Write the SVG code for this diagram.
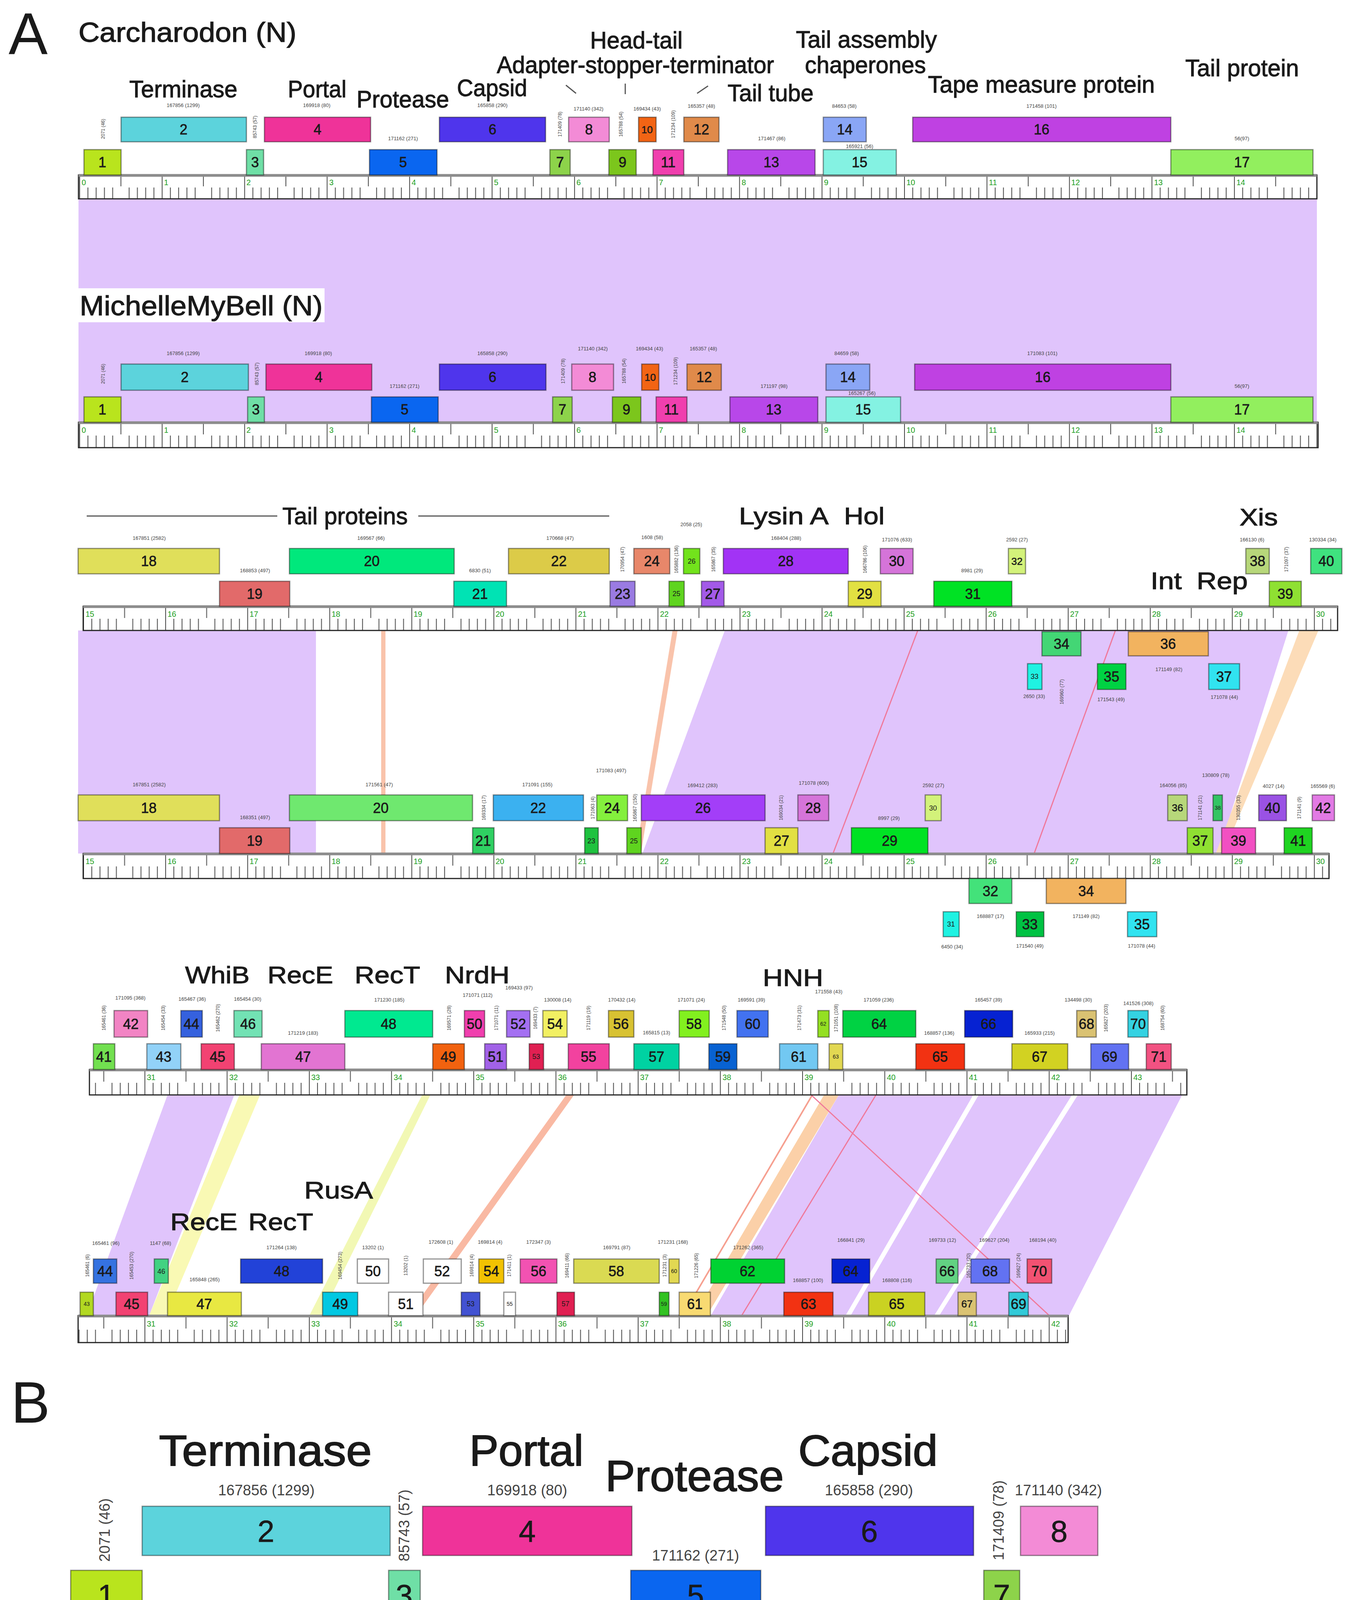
<svg xmlns="http://www.w3.org/2000/svg" width="3467" height="4284" viewBox="0 0 3467 4284">
<style>
text{font-family:"Liberation Sans",Arial,sans-serif;fill:#1a1a1a}
.g rect{stroke:#000;stroke-opacity:.42;stroke-width:3}
.n{font-size:36px;text-anchor:middle;stroke:#1a1a1a;stroke-width:.8}
.n2{font-size:26px;text-anchor:middle;stroke:#1a1a1a;stroke-width:.6}
.n3{font-size:18px;text-anchor:middle}
.n4{font-size:14px;text-anchor:middle}
.L{font-size:62px;stroke:#1a1a1a;stroke-width:1.3}
.LB{font-size:112px;stroke:#1a1a1a;stroke-width:2.2}
.H{stroke:#1a1a1a;stroke-width:1.4}
.s{font-size:13px;text-anchor:middle}
.v{font-size:12px;text-anchor:middle}
.sb{font-size:38px;text-anchor:middle}
.s text,.v text,.sb text{fill:#444}
.k{font-size:20px}
.kb{font-size:42px}
.k text,.kb text{fill:#22a022}
.rul{stroke:#222;stroke-width:3}
.top{stroke:#8c8c8c;stroke-width:7}
.tk{stroke:#444;stroke-width:2;fill:none}
.pp{fill:#e0c4fc}
.rl{stroke:#f0789a;stroke-width:3;fill:none}
.hl{stroke:#555;stroke-width:3}
</style>
<defs>
<pattern id="p1" patternUnits="userSpaceOnUse" x="203" y="448" width="211.2" height="61"><rect width="211.2" height="61" fill="#fff"/><path class="tk" d="M1 0V61M106.6 0V29M22.1 32V61M43.2 32V61M64.4 32V61M85.5 32V61M127.7 32V61M148.8 32V61M170 32V61M191.1 32V61"/></pattern>
<pattern id="p2" patternUnits="userSpaceOnUse" x="203" y="1081" width="211.2" height="65"><rect width="211.2" height="65" fill="#fff"/><path class="tk" d="M1 0V65M106.6 0V31M22.1 34V65M43.2 34V65M64.4 34V65M85.5 34V65M127.7 34V65M148.8 34V65M170 34V65M191.1 34V65"/></pattern>
<pattern id="p3" patternUnits="userSpaceOnUse" x="213" y="1552" width="210.1" height="62"><rect width="210.1" height="62" fill="#fff"/><path class="tk" d="M1 0V62M106 0V30M22 32V62M43 32V62M64 32V62M85 32V62M127 32V62M148 32V62M169 32V62M190 32V62"/></pattern>
<pattern id="p4" patternUnits="userSpaceOnUse" x="213" y="2185" width="210.1" height="64"><rect width="210.1" height="64" fill="#fff"/><path class="tk" d="M1 0V64M106 0V31M22 33V64M43 33V64M64 33V64M85 33V64M127 33V64M148 33V64M169 33V64M190 33V64"/></pattern>
<pattern id="p5" patternUnits="userSpaceOnUse" x="370" y="2738" width="210.5" height="65"><rect width="210.5" height="65" fill="#fff"/><path class="tk" d="M1 0V65M106.2 0V31M22 34V65M43 34V65M64 34V65M85 34V65M127.3 34V65M148.4 34V65M169.4 34V65M190.5 34V65"/></pattern>
<pattern id="p6" patternUnits="userSpaceOnUse" x="370" y="3368" width="210.5" height="69"><rect width="210.5" height="69" fill="#fff"/><path class="tk" d="M1 0V69M106.2 0V33M22 36V69M43 36V69M64 36V69M85 36V69M127.3 36V69M148.4 36V69M169.4 36V69M190.5 36V69"/></pattern>
<pattern id="pB" patternUnits="userSpaceOnUse" x="163" y="4145" width="411.5" height="133"><rect width="411.5" height="133" fill="#fff"/><path d="M1.5 0V133M207 0V62M42.6 66V133M83.7 66V133M124.8 66V133M165.9 66V133M248.4 66V133M289.5 66V133M330.7 66V133M371.8 66V133" stroke="#333" stroke-width="3" fill="none"/></pattern>
</defs>
<rect width="3467" height="4284" fill="#fff"/>

<!-- connectors -->
<g id="connectors">
<rect class="pp" x="201" y="509" width="3171" height="572"/>
<polygon class="pp" points="200,1614 809,1614 809,2185 200,2185"/>
<polygon fill="#f9c3ab" points="976,1614 987,1614 987,2185 976,2185"/>
<polygon fill="#f9c3ab" points="1722,1614 1735,1614 1641,2185 1628,2185"/>
<polygon class="pp" points="1856,1614 3299,1614 3119,2185 1645,2185"/>
<polygon fill="#fcdcb8" points="3327,1614 3376,1614 3132,2185 3113,2185"/>
<line class="rl" x1="2350" y1="1614" x2="2133" y2="2185"/>
<line class="rl" x1="2856" y1="1614" x2="2648" y2="2185"/>
<polygon class="pp" points="429,2803 600,2803 382,3368 222,3368"/>
<polygon fill="#f9f9b4" points="613,2803 666,2803 426,3368 382,3368"/>
<polygon fill="#f2f8b4" points="1081,2803 1102,2803 823,3368 792,3368"/>
<polygon fill="#f9b9a3" points="1450,2803 1470,2803 1065,3368 1044,3368"/>
<polygon class="pp" points="2148,2803 2492,2803 2165,3368 1820,3368"/>
<polygon class="pp" points="2506,2803 2745,2803 2392,3368 2178,3368"/>
<polygon class="pp" points="2760,2803 3027,2803 2737,3368 2405,3368"/>
<polygon fill="#fbd0a8" points="2110,2803 2148,2803 1810,3368 1778,3368"/>
<line x1="2080" y1="2803" x2="1748" y2="3368" stroke="#f6a090" stroke-width="4"/>
<line class="rl" x1="2243" y1="2803" x2="1899" y2="3368"/>
<line class="rl" x1="2077" y1="2803" x2="2687" y2="3368"/>
</g>

<!-- rulers -->
<g id="rulers">
<rect class="rul" x="201" y="448" width="3171" height="61" fill="url(#p1)"/>
<rect class="rul" x="201" y="1081" width="3174" height="65" fill="url(#p2)"/>
<rect class="rul" x="213" y="1552" width="3212" height="62" fill="url(#p3)"/>
<rect class="rul" x="213" y="2185" width="3190" height="64" fill="url(#p4)"/>
<rect class="rul" x="229" y="2738" width="2810" height="65" fill="url(#p5)"/>
<rect class="rul" x="200" y="3368" width="2535" height="69" fill="url(#p6)"/>
<path class="top" d="M201 449H3372M201 1082H3375M213 1553H3425M213 2186H3403M229 2739H3039M200 3369H2735"/>
<rect x="163" y="4145" width="2661" height="130" fill="url(#pB)" stroke="#222" stroke-width="6"/>
<g class="k">
<text x="209" y="474">0</text><text x="420" y="474">1</text><text x="631" y="474">2</text><text x="843" y="474">3</text><text x="1054" y="474">4</text><text x="1265" y="474">5</text><text x="1476" y="474">6</text><text x="1687" y="474">7</text><text x="1899" y="474">8</text><text x="2110" y="474">9</text><text x="2321" y="474">10</text><text x="2532" y="474">11</text><text x="2743" y="474">12</text><text x="2955" y="474">13</text><text x="3166" y="474">14</text>
<text x="209" y="1108">0</text><text x="420" y="1108">1</text><text x="631" y="1108">2</text><text x="843" y="1108">3</text><text x="1054" y="1108">4</text><text x="1265" y="1108">5</text><text x="1476" y="1108">6</text><text x="1687" y="1108">7</text><text x="1899" y="1108">8</text><text x="2110" y="1108">9</text><text x="2321" y="1108">10</text><text x="2532" y="1108">11</text><text x="2743" y="1108">12</text><text x="2955" y="1108">13</text><text x="3166" y="1108">14</text>
<text x="219" y="1579">15</text><text x="429" y="1579">16</text><text x="639" y="1579">17</text><text x="849" y="1579">18</text><text x="1059" y="1579">19</text><text x="1269" y="1579">20</text><text x="1480" y="1579">21</text><text x="1690" y="1579">22</text><text x="1900" y="1579">23</text><text x="2110" y="1579">24</text><text x="2320" y="1579">25</text><text x="2530" y="1579">26</text><text x="2740" y="1579">27</text><text x="2950" y="1579">28</text><text x="3160" y="1579">29</text><text x="3370" y="1579">30</text>
<text x="219" y="2212">15</text><text x="429" y="2212">16</text><text x="639" y="2212">17</text><text x="849" y="2212">18</text><text x="1059" y="2212">19</text><text x="1269" y="2212">20</text><text x="1480" y="2212">21</text><text x="1690" y="2212">22</text><text x="1900" y="2212">23</text><text x="2110" y="2212">24</text><text x="2320" y="2212">25</text><text x="2530" y="2212">26</text><text x="2740" y="2212">27</text><text x="2950" y="2212">28</text><text x="3160" y="2212">29</text><text x="3370" y="2212">30</text>
<text x="376" y="2765">31</text><text x="587" y="2765">32</text><text x="797" y="2765">33</text><text x="1008" y="2765">34</text><text x="1218" y="2765">35</text><text x="1429" y="2765">36</text><text x="1639" y="2765">37</text><text x="1850" y="2765">38</text><text x="2060" y="2765">39</text><text x="2271" y="2765">40</text><text x="2481" y="2765">41</text><text x="2692" y="2765">42</text><text x="2902" y="2765">43</text>
<text x="376" y="3396">31</text><text x="587" y="3396">32</text><text x="797" y="3396">33</text><text x="1008" y="3396">34</text><text x="1218" y="3396">35</text><text x="1429" y="3396">36</text><text x="1639" y="3396">37</text><text x="1850" y="3396">38</text><text x="2060" y="3396">39</text><text x="2271" y="3396">40</text><text x="2481" y="3396">41</text><text x="2692" y="3396">42</text>
</g>
<g class="kb"><text x="172" y="4199">0</text><text x="583" y="4199">1</text><text x="995" y="4199">2</text><text x="1406" y="4199">3</text><text x="1818" y="4199">4</text><text x="2229" y="4199">5</text><text x="2641" y="4199">6</text></g>
</g>

<!-- panel A row 1: Carcharodon 0-15 kb -->
<g class="g">
<g id="c1-2"><rect x="310" y="300" width="321" height="63" fill="#5cd3dc"/><text class="n" x="470" y="344">2</text></g>
<g id="c1-4"><rect x="677" y="300" width="272" height="63" fill="#ef3399"/><text class="n" x="813" y="344">4</text></g>
<g id="c1-6"><rect x="1125" y="300" width="272" height="63" fill="#4f35ec"/><text class="n" x="1261" y="344">6</text></g>
<g id="c1-8"><rect x="1456" y="300" width="104" height="63" fill="#f38bd6"/><text class="n" x="1508" y="344">8</text></g>
<g id="c1-10"><rect x="1635" y="300" width="45" height="63" fill="#f26414"/><text class="n2" x="1657" y="341">10</text></g>
<g id="c1-12"><rect x="1751" y="300" width="90" height="63" fill="#e08a4a"/><text class="n" x="1796" y="344">12</text></g>
<g id="c1-14"><rect x="2108" y="300" width="110" height="63" fill="#8aa6f5"/><text class="n" x="2163" y="344">14</text></g>
<g id="c1-16"><rect x="2337" y="300" width="661" height="63" fill="#bf41e2"/><text class="n" x="2667" y="344">16</text></g>
<g id="c1-1"><rect x="215" y="383" width="95" height="65" fill="#b9e41d"/><text class="n" x="262" y="428">1</text></g>
<g id="c1-3"><rect x="631" y="383" width="44" height="65" fill="#6fdfa6"/><text class="n" x="653" y="428">3</text></g>
<g id="c1-5"><rect x="946" y="383" width="173" height="65" fill="#0a66f0"/><text class="n" x="1032" y="428">5</text></g>
<g id="c1-7"><rect x="1408" y="383" width="52" height="65" fill="#8dd34a"/><text class="n" x="1434" y="428">7</text></g>
<g id="c1-9"><rect x="1559" y="383" width="70" height="65" fill="#7cc61c"/><text class="n" x="1594" y="428">9</text></g>
<g id="c1-11"><rect x="1672" y="383" width="79" height="65" fill="#f03fae"/><text class="n" x="1711" y="428">11</text></g>
<g id="c1-13"><rect x="1863" y="383" width="224" height="65" fill="#b847e9"/><text class="n" x="1975" y="428">13</text></g>
<g id="c1-15"><rect x="2108" y="383" width="187" height="65" fill="#84f2e2"/><text class="n" x="2201" y="428">15</text></g>
<g id="c1-17"><rect x="2998" y="383" width="364" height="65" fill="#92ef5e"/><text class="n" x="3180" y="428">17</text></g>
</g>

<!-- panel A row 2: MichelleMyBell 0-15 kb -->
<rect x="201" y="738" width="630" height="87" fill="#fff"/>
<g class="g">
<g id="m1-2"><rect x="310" y="932" width="326" height="67" fill="#5cd3dc"/><text class="n" x="473" y="978">2</text></g>
<g id="m1-4"><rect x="681" y="932" width="271" height="67" fill="#ef3399"/><text class="n" x="816" y="978">4</text></g>
<g id="m1-6"><rect x="1125" y="932" width="273" height="67" fill="#4f35ec"/><text class="n" x="1261" y="978">6</text></g>
<g id="m1-8"><rect x="1464" y="932" width="107" height="67" fill="#f38bd6"/><text class="n" x="1517" y="978">8</text></g>
<g id="m1-10"><rect x="1643" y="932" width="44" height="67" fill="#f26414"/><text class="n2" x="1665" y="975">10</text></g>
<g id="m1-12"><rect x="1759" y="932" width="88" height="67" fill="#e08a4a"/><text class="n" x="1803" y="978">12</text></g>
<g id="m1-14"><rect x="2115" y="932" width="112" height="67" fill="#8aa6f5"/><text class="n" x="2171" y="978">14</text></g>
<g id="m1-16"><rect x="2342" y="932" width="656" height="67" fill="#bf41e2"/><text class="n" x="2670" y="978">16</text></g>
<g id="m1-1"><rect x="215" y="1016" width="95" height="65" fill="#b9e41d"/><text class="n" x="262" y="1061">1</text></g>
<g id="m1-3"><rect x="634" y="1016" width="43" height="65" fill="#6fdfa6"/><text class="n" x="655" y="1061">3</text></g>
<g id="m1-5"><rect x="951" y="1016" width="171" height="65" fill="#0a66f0"/><text class="n" x="1036" y="1061">5</text></g>
<g id="m1-7"><rect x="1415" y="1016" width="50" height="65" fill="#8dd34a"/><text class="n" x="1440" y="1061">7</text></g>
<g id="m1-9"><rect x="1568" y="1016" width="73" height="65" fill="#7cc61c"/><text class="n" x="1604" y="1061">9</text></g>
<g id="m1-11"><rect x="1680" y="1016" width="79" height="65" fill="#f03fae"/><text class="n" x="1719" y="1061">11</text></g>
<g id="m1-13"><rect x="1869" y="1016" width="225" height="65" fill="#b847e9"/><text class="n" x="1981" y="1061">13</text></g>
<g id="m1-15"><rect x="2115" y="1016" width="191" height="65" fill="#84f2e2"/><text class="n" x="2210" y="1061">15</text></g>
<g id="m1-17"><rect x="2998" y="1016" width="364" height="65" fill="#92ef5e"/><text class="n" x="3180" y="1061">17</text></g>
</g>

<!-- row 3: Carcharodon 15-30 kb -->
<g class="g">
<g id="c2-18"><rect x="200" y="1404" width="362" height="65" fill="#e0df5a"/><text class="n" x="381" y="1449">18</text></g>
<g id="c2-20"><rect x="741" y="1404" width="422" height="65" fill="#00e87c"/><text class="n" x="952" y="1449">20</text></g>
<g id="c2-22"><rect x="1302" y="1404" width="258" height="65" fill="#dccb48"/><text class="n" x="1431" y="1449">22</text></g>
<g id="c2-24"><rect x="1623" y="1404" width="92" height="65" fill="#e8876a"/><text class="n" x="1669" y="1449">24</text></g>
<g id="c2-26"><rect x="1750" y="1404" width="42" height="65" fill="#72e31c"/><text class="n3" x="1771" y="1443">26</text></g>
<g id="c2-28"><rect x="1852" y="1404" width="320" height="65" fill="#a233f5"/><text class="n" x="2012" y="1449">28</text></g>
<g id="c2-30"><rect x="2254" y="1404" width="84" height="65" fill="#d574d9"/><text class="n" x="2296" y="1449">30</text></g>
<g id="c2-32"><rect x="2582" y="1404" width="44" height="65" fill="#d3f27a"/><text class="n2" x="2604" y="1446">32</text></g>
<g id="c2-38"><rect x="3190" y="1404" width="60" height="65" fill="#b7d77a"/><text class="n" x="3220" y="1449">38</text></g>
<g id="c2-40"><rect x="3356" y="1404" width="80" height="65" fill="#3fe27f"/><text class="n" x="3396" y="1449">40</text></g>
<g id="c2-19"><rect x="562" y="1488" width="180" height="64" fill="#e26a6a"/><text class="n" x="652" y="1533">19</text></g>
<g id="c2-21"><rect x="1162" y="1488" width="135" height="64" fill="#00e3b4"/><text class="n" x="1229" y="1533">21</text></g>
<g id="c2-23"><rect x="1562" y="1488" width="64" height="64" fill="#9a7be2"/><text class="n" x="1594" y="1533">23</text></g>
<g id="c2-25"><rect x="1713" y="1488" width="39" height="64" fill="#5fd41f"/><text class="n3" x="1732" y="1526">25</text></g>
<g id="c2-27"><rect x="1796" y="1488" width="58" height="64" fill="#a35ae8"/><text class="n" x="1825" y="1533">27</text></g>
<g id="c2-29"><rect x="2172" y="1488" width="84" height="64" fill="#e2e042"/><text class="n" x="2214" y="1533">29</text></g>
<g id="c2-31"><rect x="2391" y="1488" width="200" height="64" fill="#00e224"/><text class="n" x="2491" y="1533">31</text></g>
<g id="c2-39"><rect x="3250" y="1488" width="82" height="64" fill="#8fe032"/><text class="n" x="3291" y="1533">39</text></g>
<g id="c2-34"><rect x="2668" y="1617" width="100" height="62" fill="#43d675"/><text class="n" x="2718" y="1661">34</text></g>
<g id="c2-36"><rect x="2889" y="1617" width="205" height="62" fill="#f2b35f"/><text class="n" x="2991" y="1661">36</text></g>
<g id="c2-33"><rect x="2631" y="1699" width="37" height="66" fill="#1ff2e2"/><text class="n3" x="2649" y="1738">33</text></g>
<g id="c2-35"><rect x="2810" y="1699" width="73" height="66" fill="#00d243"/><text class="n" x="2846" y="1745">35</text></g>
<g id="c2-37"><rect x="3095" y="1699" width="79" height="66" fill="#31e3f0"/><text class="n" x="3134" y="1745">37</text></g>
</g>

<!-- row 4: MichelleMyBell 15-30 kb -->
<g class="g">
<g id="m2-18"><rect x="200" y="2035" width="362" height="66" fill="#e0df5a"/><text class="n" x="381" y="2081">18</text></g>
<g id="m2-20"><rect x="741" y="2035" width="469" height="66" fill="#6fe86f"/><text class="n" x="975" y="2081">20</text></g>
<g id="m2-22"><rect x="1263" y="2035" width="231" height="66" fill="#3bb1f0"/><text class="n" x="1378" y="2081">22</text></g>
<g id="m2-24"><rect x="1528" y="2035" width="79" height="66" fill="#84f03d"/><text class="n" x="1567" y="2081">24</text></g>
<g id="m2-26"><rect x="1642" y="2035" width="317" height="66" fill="#a33ef8"/><text class="n" x="1800" y="2081">26</text></g>
<g id="m2-28"><rect x="2043" y="2035" width="79" height="66" fill="#d574d9"/><text class="n" x="2082" y="2081">28</text></g>
<g id="m2-30"><rect x="2369" y="2035" width="41" height="66" fill="#d3f27a"/><text class="n3" x="2389" y="2075">30</text></g>
<g id="m2-36"><rect x="2990" y="2035" width="50" height="66" fill="#b7d77a"/><text class="n2" x="3015" y="2077">36</text></g>
<g id="m2-38"><rect x="3106" y="2035" width="24" height="66" fill="#34c464"/><text class="n4" x="3118" y="2073">38</text></g>
<g id="m2-40"><rect x="3223" y="2035" width="71" height="66" fill="#9a52e4"/><text class="n" x="3258" y="2081">40</text></g>
<g id="m2-42"><rect x="3360" y="2035" width="57" height="66" fill="#e27ae4"/><text class="n" x="3388" y="2081">42</text></g>
<g id="m2-19"><rect x="562" y="2119" width="180" height="66" fill="#e26a6a"/><text class="n" x="652" y="2165">19</text></g>
<g id="m2-21"><rect x="1210" y="2119" width="55" height="66" fill="#2fd062"/><text class="n" x="1237" y="2165">21</text></g>
<g id="m2-23"><rect x="1497" y="2119" width="35" height="66" fill="#1fc23f"/><text class="n3" x="1514" y="2159">23</text></g>
<g id="m2-25"><rect x="1605" y="2119" width="37" height="66" fill="#5fd41f"/><text class="n3" x="1623" y="2159">25</text></g>
<g id="m2-27"><rect x="1959" y="2119" width="84" height="66" fill="#e2e042"/><text class="n" x="2001" y="2165">27</text></g>
<g id="m2-29"><rect x="2180" y="2119" width="196" height="66" fill="#00e224"/><text class="n" x="2278" y="2165">29</text></g>
<g id="m2-37"><rect x="3040" y="2119" width="66" height="66" fill="#8fe032"/><text class="n" x="3073" y="2165">37</text></g>
<g id="m2-39"><rect x="3128" y="2119" width="87" height="66" fill="#f250c2"/><text class="n" x="3171" y="2165">39</text></g>
<g id="m2-41"><rect x="3288" y="2119" width="72" height="66" fill="#1fd421"/><text class="n" x="3324" y="2165">41</text></g>
<g id="m2-32"><rect x="2481" y="2249" width="110" height="64" fill="#43e27a"/><text class="n" x="2536" y="2294">32</text></g>
<g id="m2-34"><rect x="2679" y="2249" width="204" height="64" fill="#f2b35f"/><text class="n" x="2781" y="2294">34</text></g>
<g id="m2-31"><rect x="2415" y="2334" width="41" height="64" fill="#1ff2e2"/><text class="n3" x="2435" y="2372">31</text></g>
<g id="m2-33"><rect x="2602" y="2334" width="71" height="64" fill="#00c243"/><text class="n" x="2637" y="2379">33</text></g>
<g id="m2-35"><rect x="2887" y="2334" width="75" height="64" fill="#31e3f0"/><text class="n" x="2924" y="2379">35</text></g>
</g>

<!-- row 5: Carcharodon 30-43 kb -->
<g class="g">
<g id="c3-42"><rect x="292" y="2587" width="86" height="68" fill="#f284c4"/><text class="n" x="335" y="2634">42</text></g>
<g id="c3-44"><rect x="463" y="2587" width="55" height="68" fill="#3561de"/><text class="n" x="490" y="2634">44</text></g>
<g id="c3-46"><rect x="599" y="2587" width="72" height="68" fill="#72e2b4"/><text class="n" x="635" y="2634">46</text></g>
<g id="c3-48"><rect x="883" y="2587" width="225" height="68" fill="#00e990"/><text class="n" x="995" y="2634">48</text></g>
<g id="c3-50"><rect x="1189" y="2587" width="52" height="68" fill="#f03fae"/><text class="n" x="1215" y="2634">50</text></g>
<g id="c3-52"><rect x="1297" y="2587" width="60" height="68" fill="#a470f2"/><text class="n" x="1327" y="2634">52</text></g>
<g id="c3-54"><rect x="1390" y="2587" width="62" height="68" fill="#f2f062"/><text class="n" x="1421" y="2634">54</text></g>
<g id="c3-56"><rect x="1558" y="2587" width="65" height="68" fill="#d8c232"/><text class="n" x="1590" y="2634">56</text></g>
<g id="c3-58"><rect x="1739" y="2587" width="77" height="68" fill="#82f01f"/><text class="n" x="1777" y="2634">58</text></g>
<g id="c3-60"><rect x="1887" y="2587" width="80" height="68" fill="#4272f0"/><text class="n" x="1927" y="2634">60</text></g>
<g id="c3-62"><rect x="2094" y="2587" width="29" height="68" fill="#94e022"/><text class="n4" x="2108" y="2626">62</text></g>
<g id="c3-64"><rect x="2158" y="2587" width="187" height="68" fill="#00d243"/><text class="n" x="2251" y="2634">64</text></g>
<g id="c3-66"><rect x="2470" y="2587" width="123" height="68" fill="#0622d2"/><text class="n" x="2531" y="2634">66</text></g>
<g id="c3-68"><rect x="2757" y="2587" width="50" height="68" fill="#dac272"/><text class="n" x="2782" y="2634">68</text></g>
<g id="c3-70"><rect x="2888" y="2587" width="52" height="68" fill="#34d2e2"/><text class="n" x="2914" y="2634">70</text></g>
<g id="c3-41"><rect x="239" y="2672" width="55" height="66" fill="#72e050"/><text class="n" x="266" y="2718">41</text></g>
<g id="c3-43"><rect x="376" y="2672" width="87" height="66" fill="#92d2f8"/><text class="n" x="419" y="2718">43</text></g>
<g id="c3-45"><rect x="515" y="2672" width="85" height="66" fill="#f24272"/><text class="n" x="557" y="2718">45</text></g>
<g id="c3-47"><rect x="669" y="2672" width="214" height="66" fill="#e274d2"/><text class="n" x="776" y="2718">47</text></g>
<g id="c3-49"><rect x="1108" y="2672" width="81" height="66" fill="#f2620f"/><text class="n" x="1148" y="2718">49</text></g>
<g id="c3-51"><rect x="1241" y="2672" width="56" height="66" fill="#a262e8"/><text class="n" x="1269" y="2718">51</text></g>
<g id="c3-53"><rect x="1355" y="2672" width="37" height="66" fill="#e02052"/><text class="n3" x="1373" y="2711">53</text></g>
<g id="c3-55"><rect x="1455" y="2672" width="105" height="66" fill="#f2429f"/><text class="n" x="1507" y="2718">55</text></g>
<g id="c3-57"><rect x="1623" y="2672" width="116" height="66" fill="#00d2a2"/><text class="n" x="1681" y="2718">57</text></g>
<g id="c3-59"><rect x="1815" y="2672" width="72" height="66" fill="#0862d2"/><text class="n" x="1851" y="2718">59</text></g>
<g id="c3-61"><rect x="1996" y="2672" width="98" height="66" fill="#72c8f2"/><text class="n" x="2045" y="2718">61</text></g>
<g id="c3-63"><rect x="2123" y="2672" width="35" height="66" fill="#e2d852"/><text class="n4" x="2140" y="2710">63</text></g>
<g id="c3-65"><rect x="2345" y="2672" width="125" height="66" fill="#f23212"/><text class="n" x="2407" y="2718">65</text></g>
<g id="c3-67"><rect x="2591" y="2672" width="143" height="66" fill="#d2d222"/><text class="n" x="2662" y="2718">67</text></g>
<g id="c3-69"><rect x="2793" y="2672" width="97" height="66" fill="#6272f2"/><text class="n" x="2841" y="2718">69</text></g>
<g id="c3-71"><rect x="2935" y="2672" width="64" height="66" fill="#f25282"/><text class="n" x="2967" y="2718">71</text></g>
</g>

<!-- row 6: MichelleMyBell 30-42 kb -->
<g class="g">
<g id="m3-44"><rect x="239" y="3223" width="60" height="62" fill="#3572e0"/><text class="n" x="269" y="3267">44</text></g>
<g id="m3-46"><rect x="395" y="3223" width="36" height="62" fill="#42d282"/><text class="n3" x="413" y="3261">46</text></g>
<g id="m3-48"><rect x="616" y="3223" width="210" height="62" fill="#2242d8"/><text class="n" x="721" y="3267">48</text></g>
<g id="m3-50"><rect x="915" y="3223" width="80" height="62" fill="#fff"/><text class="n" x="955" y="3267">50</text></g>
<g id="m3-52"><rect x="1084" y="3223" width="97" height="62" fill="#fff"/><text class="n" x="1132" y="3267">52</text></g>
<g id="m3-54"><rect x="1226" y="3223" width="64" height="62" fill="#f2c202"/><text class="n" x="1258" y="3267">54</text></g>
<g id="m3-56"><rect x="1332" y="3223" width="94" height="62" fill="#f252b2"/><text class="n" x="1379" y="3267">56</text></g>
<g id="m3-58"><rect x="1469" y="3223" width="219" height="62" fill="#dada52"/><text class="n" x="1578" y="3267">58</text></g>
<g id="m3-60"><rect x="1713" y="3223" width="26" height="62" fill="#e2d852"/><text class="n4" x="1726" y="3259">60</text></g>
<g id="m3-62"><rect x="1820" y="3223" width="189" height="62" fill="#00d232"/><text class="n" x="1914" y="3267">62</text></g>
<g id="m3-64"><rect x="2130" y="3223" width="97" height="62" fill="#0622d2"/><text class="n" x="2178" y="3267">64</text></g>
<g id="m3-66"><rect x="2397" y="3223" width="56" height="62" fill="#62d282"/><text class="n" x="2425" y="3267">66</text></g>
<g id="m3-68"><rect x="2486" y="3223" width="99" height="62" fill="#6272f2"/><text class="n" x="2535" y="3267">68</text></g>
<g id="m3-70"><rect x="2630" y="3223" width="63" height="62" fill="#f25272"/><text class="n" x="2661" y="3267">70</text></g>
<g id="m3-43"><rect x="205" y="3308" width="34" height="60" fill="#b2d822"/><text class="n4" x="222" y="3343">43</text></g>
<g id="m3-45"><rect x="297" y="3308" width="81" height="60" fill="#f24272"/><text class="n" x="337" y="3351">45</text></g>
<g id="m3-47"><rect x="429" y="3308" width="189" height="60" fill="#e8e842"/><text class="n" x="523" y="3351">47</text></g>
<g id="m3-49"><rect x="826" y="3308" width="90" height="60" fill="#02c8e2"/><text class="n" x="871" y="3351">49</text></g>
<g id="m3-51"><rect x="995" y="3308" width="88" height="60" fill="#fff"/><text class="n" x="1039" y="3351">51</text></g>
<g id="m3-53"><rect x="1181" y="3308" width="48" height="60" fill="#4252d2"/><text class="n3" x="1205" y="3344">53</text></g>
<g id="m3-55"><rect x="1290" y="3308" width="30" height="60" fill="#fff"/><text class="n4" x="1305" y="3343">55</text></g>
<g id="m3-57"><rect x="1426" y="3308" width="45" height="60" fill="#e02052"/><text class="n3" x="1448" y="3344">57</text></g>
<g id="m3-59"><rect x="1688" y="3308" width="25" height="60" fill="#32c222"/><text class="n4" x="1700" y="3343">59</text></g>
<g id="m3-61"><rect x="1739" y="3308" width="80" height="60" fill="#f8da72"/><text class="n" x="1779" y="3351">61</text></g>
<g id="m3-63"><rect x="2007" y="3308" width="126" height="60" fill="#f23212"/><text class="n" x="2070" y="3351">63</text></g>
<g id="m3-65"><rect x="2224" y="3308" width="144" height="60" fill="#cad222"/><text class="n" x="2296" y="3351">65</text></g>
<g id="m3-67"><rect x="2453" y="3308" width="47" height="60" fill="#dac272"/><text class="n2" x="2476" y="3347">67</text></g>
<g id="m3-69"><rect x="2583" y="3308" width="50" height="60" fill="#32cad8"/><text class="n" x="2608" y="3351">69</text></g>
</g>

<!-- panel B -->
<g class="g">
<g id="b-2"><rect x="364" y="3856" width="635" height="126" fill="#5cd3dc"/><text class="n" style="font-size:78px" x="681" y="3947">2</text></g>
<g id="b-4"><rect x="1082" y="3856" width="536" height="126" fill="#ef3399"/><text class="n" style="font-size:78px" x="1350" y="3947">4</text></g>
<g id="b-6"><rect x="1960" y="3856" width="533" height="126" fill="#4f35ec"/><text class="n" style="font-size:78px" x="2226" y="3947">6</text></g>
<g id="b-8"><rect x="2613" y="3856" width="198" height="126" fill="#f38bd6"/><text class="n" style="font-size:78px" x="2712" y="3947">8</text></g>
<g id="b-1"><rect x="181" y="4020" width="183" height="125" fill="#b9e41d"/><text class="n" style="font-size:78px" x="272" y="4111">1</text></g>
<g id="b-3"><rect x="995" y="4020" width="81" height="125" fill="#6fdfa6"/><text class="n" style="font-size:78px" x="1035" y="4111">3</text></g>
<g id="b-5"><rect x="1615" y="4020" width="333" height="125" fill="#0a66f0"/><text class="n" style="font-size:78px" x="1781" y="4111">5</text></g>
<g id="b-7"><rect x="2519" y="4020" width="92" height="125" fill="#8dd34a"/><text class="n" style="font-size:78px" x="2565" y="4111">7</text></g>
</g>

<!-- headings and category labels -->
<g id="labels">
<text x="22" y="138" style="font-size:150px">A</text>
<text x="28" y="3642" style="font-size:150px">B</text>
<text class="H" x="201" y="107" style="font-size:70px" textLength="558" lengthAdjust="spacingAndGlyphs">Carcharodon (N)</text>
<text class="H" x="204" y="807" style="font-size:70px" textLength="622" lengthAdjust="spacingAndGlyphs">MichelleMyBell (N)</text>
<text class="L" x="331" y="249" textLength="277" lengthAdjust="spacingAndGlyphs">Terminase</text>
<text class="L" x="737" y="249" textLength="150" lengthAdjust="spacingAndGlyphs">Portal</text>
<text class="L" x="913" y="275" textLength="237" lengthAdjust="spacingAndGlyphs">Protease</text>
<text class="L" x="1170" y="246" textLength="180" lengthAdjust="spacingAndGlyphs">Capsid</text>
<text class="L" x="1511" y="124" textLength="237" lengthAdjust="spacingAndGlyphs">Head-tail</text>
<text class="L" x="1272" y="187" textLength="710" lengthAdjust="spacingAndGlyphs">Adapter-stopper-terminator</text>
<text class="L" x="1863" y="259" textLength="220" lengthAdjust="spacingAndGlyphs">Tail tube</text>
<text class="L" x="2038" y="122" textLength="361" lengthAdjust="spacingAndGlyphs">Tail assembly</text>
<text class="L" x="2061" y="187" textLength="310" lengthAdjust="spacingAndGlyphs">chaperones</text>
<text class="L" x="2376" y="237" textLength="581" lengthAdjust="spacingAndGlyphs">Tape measure protein</text>
<text class="L" x="3035" y="195" textLength="291" lengthAdjust="spacingAndGlyphs">Tail protein</text>
<path class="hl" d="M1449 218L1475 239M1601 214V241M1813 220L1785 239"/>
<path class="hl" d="M222 1321H710M1071 1321H1560"/>
<text class="L" x="723" y="1342" textLength="321" lengthAdjust="spacingAndGlyphs">Tail proteins</text>
<text class="L" x="1892" y="1342" textLength="230" lengthAdjust="spacingAndGlyphs">Lysin A</text>
<text class="L" x="2161" y="1342" textLength="104" lengthAdjust="spacingAndGlyphs">Hol</text>
<text class="L" x="3174" y="1345" textLength="98" lengthAdjust="spacingAndGlyphs">Xis</text>
<text class="L" x="2946" y="1508" textLength="80" lengthAdjust="spacingAndGlyphs">Int</text>
<text class="L" x="3064" y="1508" textLength="131" lengthAdjust="spacingAndGlyphs">Rep</text>
<text class="L" x="474" y="2517" textLength="165" lengthAdjust="spacingAndGlyphs">WhiB</text>
<text class="L" x="685" y="2517" textLength="168" lengthAdjust="spacingAndGlyphs">RecE</text>
<text class="L" x="908" y="2517" textLength="168" lengthAdjust="spacingAndGlyphs">RecT</text>
<text class="L" x="1139" y="2517" textLength="166" lengthAdjust="spacingAndGlyphs">NrdH</text>
<text class="L" x="1953" y="2524" textLength="155" lengthAdjust="spacingAndGlyphs">HNH</text>
<text class="L" x="779" y="3068" textLength="176" lengthAdjust="spacingAndGlyphs">RusA</text>
<text class="L" x="436" y="3149" textLength="172" lengthAdjust="spacingAndGlyphs">RecE</text>
<text class="L" x="636" y="3149" textLength="166" lengthAdjust="spacingAndGlyphs">RecT</text>
<text class="LB" x="407" y="3752" textLength="545" lengthAdjust="spacingAndGlyphs">Terminase</text>
<text class="LB" x="1202" y="3752" textLength="292" lengthAdjust="spacingAndGlyphs">Portal</text>
<text class="LB" x="1550" y="3817" textLength="457" lengthAdjust="spacingAndGlyphs">Protease</text>
<text class="LB" x="2044" y="3752" textLength="357" lengthAdjust="spacingAndGlyphs">Capsid</text>
</g>

<!-- small gene coordinate labels -->
<g id="small-labels">
<g class="sb">
<text x="682" y="3828">167856 (1299)</text><text x="1350" y="3828">169918 (80)</text><text x="2225" y="3828">165858 (290)</text><text x="2710" y="3828">171140 (342)</text><text x="1781" y="3995">171162 (271)</text>
<text transform="translate(281 3917) rotate(-90)">2071 (46)</text>
<text transform="translate(1048 3905) rotate(-90)">85743 (57)</text>
<text transform="translate(2570 3892) rotate(-90)">171409 (78)</text>
</g>
<g class="s">
<text x="469" y="274">167856 (1299)</text><text x="811" y="274">169918 (80)</text><text x="1261" y="274">165858 (290)</text><text x="1032" y="359">171162 (271)</text><text x="1507" y="283">171140 (342)</text><text x="1657" y="283">169434 (43)</text><text x="1796" y="276">165357 (48)</text><text x="1976" y="359">171467 (86)</text><text x="2162" y="276">84653 (58)</text><text x="2201" y="379">165921 (56)</text><text x="2667" y="276">171458 (101)</text><text x="3180" y="359">56(97)</text>
<text x="469" y="909">167856 (1299)</text><text x="815" y="909">169918 (80)</text><text x="1261" y="909">165858 (290)</text><text x="1036" y="993">171162 (271)</text><text x="1518" y="897">171140 (342)</text><text x="1663" y="897">169434 (43)</text><text x="1801" y="897">165357 (48)</text><text x="1982" y="993">171197 (98)</text><text x="2168" y="909">84659 (58)</text><text x="2207" y="1011">165267 (56)</text><text x="2669" y="909">171083 (101)</text><text x="3180" y="993">56(97)</text>
<text x="382" y="1382">167851 (2582)</text><text x="950" y="1382">169567 (66)</text><text x="1434" y="1382">170668 (47)</text><text x="1670" y="1380">1608 (58)</text><text x="1770" y="1347">2058 (25)</text><text x="653" y="1465">168853 (497)</text><text x="1229" y="1465">6830 (51)</text><text x="2013" y="1382">168404 (288)</text><text x="2297" y="1386">171076 (633)</text><text x="2604" y="1386">2592 (27)</text><text x="2489" y="1465">8981 (29)</text><text x="3206" y="1386">166130 (6)</text><text x="3387" y="1386">130334 (34)</text><text x="2648" y="1787">2650 (33)</text><text x="2845" y="1795">171543 (49)</text><text x="2993" y="1718">171149 (82)</text><text x="3135" y="1789">171078 (44)</text>
<text x="382" y="2013">167851 (2582)</text><text x="971" y="2013">171561 (47)</text><text x="1376" y="2013">171091 (155)</text><text x="1565" y="1977">171083 (497)</text><text x="653" y="2097">168351 (497)</text><text x="1799" y="2015">169412 (283)</text><text x="2084" y="2009">171078 (600)</text><text x="2390" y="2015">2592 (27)</text><text x="2276" y="2099">8997 (29)</text><text x="3004" y="2015">164056 (85)</text><text x="3113" y="1989">130809 (78)</text><text x="3261" y="2017">4027 (14)</text><text x="3387" y="2017">165569 (6)</text><text x="2438" y="2428">6450 (34)</text><text x="2536" y="2350">168887 (17)</text><text x="2637" y="2426">171540 (49)</text><text x="2781" y="2350">171149 (82)</text><text x="2923" y="2426">171078 (44)</text>
<text x="334" y="2559">171095 (368)</text><text x="492" y="2562">165467 (36)</text><text x="634" y="2562">165454 (30)</text><text x="997" y="2564">171230 (185)</text><text x="776" y="2649">171219 (183)</text><text x="1223" y="2552">171071 (112)</text><text x="1329" y="2533">169433 (97)</text><text x="1428" y="2564">130008 (14)</text><text x="1592" y="2564">170432 (14)</text><text x="1681" y="2648">165815 (13)</text><text x="1770" y="2564">171071 (24)</text><text x="1924" y="2564">169591 (39)</text><text x="2122" y="2543">171558 (43)</text><text x="2250" y="2564">171059 (236)</text><text x="2405" y="2649">168857 (136)</text><text x="2531" y="2564">165457 (39)</text><text x="2662" y="2649">165933 (215)</text><text x="2761" y="2564">134498 (30)</text><text x="2915" y="2573">141526 (308)</text>
<text x="271" y="3187">165461 (96)</text><text x="411" y="3187">1147 (68)</text><text x="721" y="3198">171264 (138)</text><text x="524" y="3280">165848 (265)</text><text x="955" y="3198">13202 (1)</text><text x="1129" y="3184">172608 (1)</text><text x="1255" y="3184">169814 (4)</text><text x="1379" y="3184">172347 (3)</text><text x="1579" y="3198">169791 (87)</text><text x="1723" y="3184">171231 (168)</text><text x="1916" y="3198">171262 (365)</text><text x="2179" y="3179">166841 (29)</text><text x="2069" y="3282">168857 (100)</text><text x="2297" y="3282">168808 (116)</text><text x="2413" y="3179">169733 (12)</text><text x="2546" y="3179">169627 (204)</text><text x="2670" y="3179">168194 (40)</text>
</g>
<g class="v">
<text transform="translate(268 330) rotate(-90)">2071 (46)</text><text transform="translate(657 325) rotate(-90)">85743 (57)</text><text transform="translate(1438 318) rotate(-90)">171409 (78)</text><text transform="translate(1594 318) rotate(-90)">165788 (54)</text><text transform="translate(1728 318) rotate(-90)">171234 (109)</text>
<text transform="translate(268 957) rotate(-90)">2071 (46)</text><text transform="translate(662 957) rotate(-90)">85743 (57)</text><text transform="translate(1446 950) rotate(-90)">171409 (78)</text><text transform="translate(1602 950) rotate(-90)">165788 (54)</text><text transform="translate(1734 950) rotate(-90)">171234 (109)</text>
<text transform="translate(1598 1432) rotate(-90)">170954 (47)</text><text transform="translate(1736 1432) rotate(-90)">165882 (136)</text><text transform="translate(1831 1432) rotate(-90)">165867 (35)</text><text transform="translate(2219 1432) rotate(-90)">166786 (106)</text><text transform="translate(3298 1432) rotate(-90)">171097 (37)</text><text transform="translate(2723 1771) rotate(-90)">169960 (77)</text>
<text transform="translate(1243 2068) rotate(-90)">169334 (17)</text><text transform="translate(1522 2068) rotate(-90)">171063 (4)</text><text transform="translate(1630 2068) rotate(-90)">165867 (150)</text><text transform="translate(2004 2068) rotate(-90)">169034 (21)</text><text transform="translate(3077 2068) rotate(-90)">171141 (21)</text><text transform="translate(3175 2068) rotate(-90)">130355 (33)</text><text transform="translate(3331 2068) rotate(-90)">171141 (9)</text>
<text transform="translate(270 2606) rotate(-90)">165461 (36)</text><text transform="translate(422 2606) rotate(-90)">165454 (33)</text><text transform="translate(562 2606) rotate(-90)">165462 (270)</text><text transform="translate(1154 2606) rotate(-90)">169571 (28)</text><text transform="translate(1275 2606) rotate(-90)">171071 (11)</text><text transform="translate(1375 2606) rotate(-90)">169433 (7)</text><text transform="translate(1511 2606) rotate(-90)">171119 (19)</text><text transform="translate(1858 2606) rotate(-90)">171548 (50)</text><text transform="translate(2051 2606) rotate(-90)">171473 (31)</text><text transform="translate(2145 2606) rotate(-90)">171051 (108)</text><text transform="translate(2836 2606) rotate(-90)">165827 (203)</text><text transform="translate(2981 2606) rotate(-90)">168754 (60)</text>
<text transform="translate(228 3240) rotate(-90)">165461 (6)</text><text transform="translate(341 3240) rotate(-90)">165453 (270)</text><text transform="translate(875 3240) rotate(-90)">169454 (273)</text><text transform="translate(1043 3240) rotate(-90)">13202 (1)</text><text transform="translate(1212 3240) rotate(-90)">169814 (4)</text><text transform="translate(1308 3240) rotate(-90)">171411 (1)</text><text transform="translate(1456 3240) rotate(-90)">169411 (66)</text><text transform="translate(1706 3240) rotate(-90)">171231 (3)</text><text transform="translate(1787 3240) rotate(-90)">171226 (65)</text><text transform="translate(2484 3240) rotate(-90)">165733 (20)</text><text transform="translate(2612 3240) rotate(-90)">169627 (24)</text>
</g>
</g>
</svg>
